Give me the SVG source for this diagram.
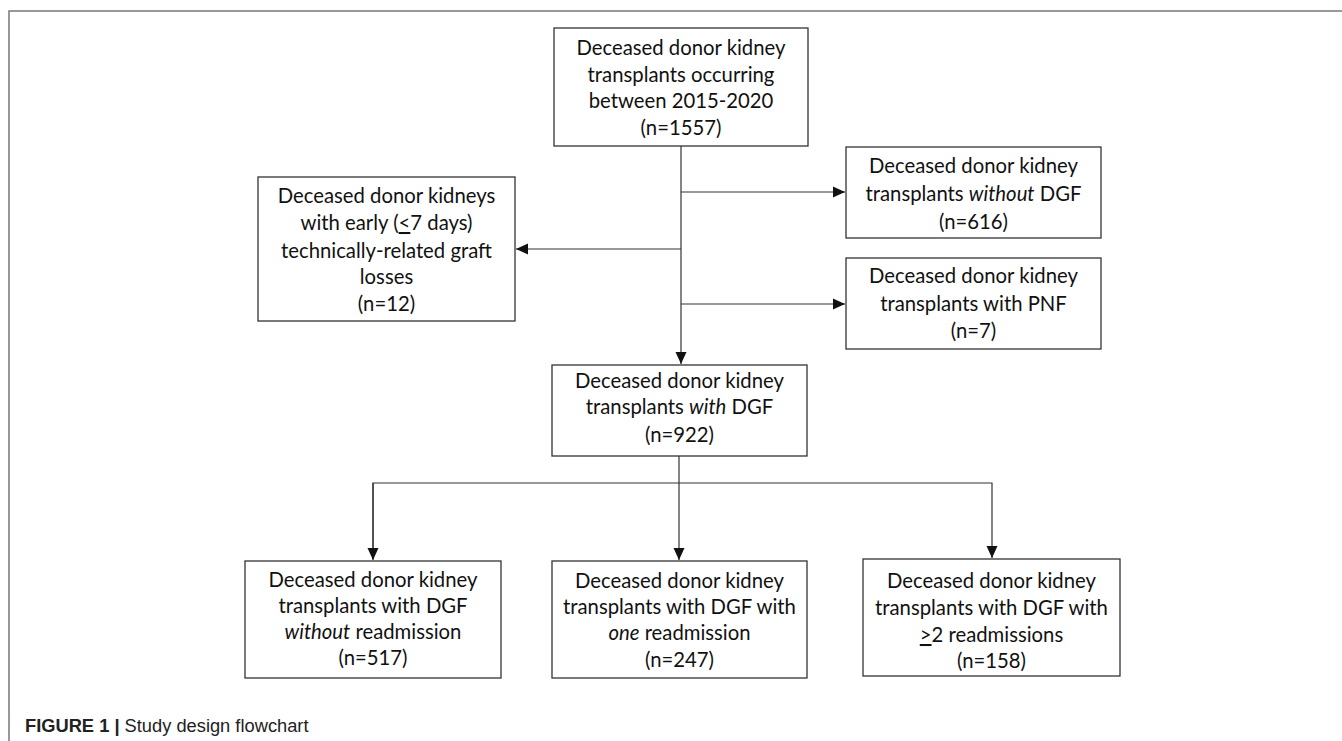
<svg xmlns="http://www.w3.org/2000/svg" width="1342" height="741" viewBox="0 0 1342 741">
<style>
.box{fill:#fff;stroke:#333;stroke-width:1.3}
.t{font-family:Lato,"Open Sans",sans-serif;font-size:20.3px;fill:#111;text-anchor:middle}
.c{fill:none;stroke:#333;stroke-width:1.2}
.frame{fill:none;stroke:#777;stroke-width:1.5}
.cap{font-family:"Liberation Sans",Arial,sans-serif;font-size:18.3px;fill:#222}
</style>
<defs>
<marker id="ah" markerUnits="userSpaceOnUse" markerWidth="13" markerHeight="13" viewBox="0 0 13 13" refX="12" refY="6.5" orient="auto">
<path d="M0,1 L12,6.5 L0,12 Z" fill="#111"/>
</marker>
</defs>
<rect width="1342" height="741" fill="#fff"/>
<path class="frame" d="M9,741 L9,11 L1342,11"/>
<g id="connectors">
<line class="c" x1="681" y1="146" x2="681" y2="364" marker-end="url(#ah)"/>
<line class="c" x1="681" y1="192" x2="845" y2="192" marker-end="url(#ah)"/>
<line class="c" x1="681" y1="249" x2="516" y2="249" marker-end="url(#ah)"/>
<line class="c" x1="681" y1="304" x2="845" y2="304" marker-end="url(#ah)"/>
<line class="c" x1="679" y1="456" x2="679" y2="560" marker-end="url(#ah)"/>
<path class="c" d="M373,559 L373,483 L992,483 L992,558" marker-end="url(#ah)"/>
<line class="c" x1="373" y1="483" x2="373" y2="560" marker-end="url(#ah)"/>
</g>
<g id="n_total">
<rect class="box" x="554" y="28" width="254" height="118"/>
<text class="t" x="681" y="55">Deceased donor kidney</text>
<text class="t" x="681" y="82">transplants occurring</text>
<text class="t" x="681" y="108">between 2015-2020</text>
<text class="t" x="681" y="135">(n=1557)</text>
</g>
<g id="n_early">
<rect class="box" x="258" y="177" width="257" height="144"/>
<text class="t" x="386.5" y="203">Deceased donor kidneys</text>
<text class="t" x="386.5" y="230">with early (<tspan text-decoration="underline">&lt;</tspan>7 days)</text>
<text class="t" x="386.5" y="258">technically-related graft</text>
<text class="t" x="386.5" y="284">losses</text>
<text class="t" x="386.5" y="311">(n=12)</text>
</g>
<g id="n_without">
<rect class="box" x="846" y="147" width="255" height="91"/>
<text class="t" x="973.5" y="173">Deceased donor kidney</text>
<text class="t" x="973.5" y="201">transplants <tspan font-style="italic">without</tspan> DGF</text>
<text class="t" x="973.5" y="229">(n=616)</text>
</g>
<g id="n_pnf">
<rect class="box" x="846" y="258" width="255" height="91"/>
<text class="t" x="973.5" y="283">Deceased donor kidney</text>
<text class="t" x="973.5" y="311">transplants with PNF</text>
<text class="t" x="973.5" y="338">(n=7)</text>
</g>
<g id="n_with">
<rect class="box" x="552" y="365" width="255" height="91"/>
<text class="t" x="679.5" y="388">Deceased donor kidney</text>
<text class="t" x="679.5" y="414">transplants <tspan font-style="italic">with</tspan> DGF</text>
<text class="t" x="679.5" y="442">(n=922)</text>
</g>
<g id="n_none">
<rect class="box" x="245" y="561" width="256" height="117"/>
<text class="t" x="373" y="587">Deceased donor kidney</text>
<text class="t" x="373" y="613">transplants with DGF</text>
<text class="t" x="373" y="639"><tspan font-style="italic">without</tspan> readmission</text>
<text class="t" x="373" y="665">(n=517)</text>
</g>
<g id="n_one">
<rect class="box" x="552" y="561" width="255" height="117"/>
<text class="t" x="679.5" y="588">Deceased donor kidney</text>
<text class="t" x="679.5" y="614">transplants with DGF with</text>
<text class="t" x="679.5" y="640"><tspan font-style="italic">one</tspan> readmission</text>
<text class="t" x="679.5" y="667">(n=247)</text>
</g>
<g id="n_two">
<rect class="box" x="863" y="559" width="257" height="117"/>
<text class="t" x="991.5" y="588">Deceased donor kidney</text>
<text class="t" x="991.5" y="615">transplants with DGF with</text>
<text class="t" x="991.5" y="642"><tspan text-decoration="underline">&gt;</tspan>2 readmissions</text>
<text class="t" x="991.5" y="668">(n=158)</text>
</g>
<text class="cap" x="25" y="732"><tspan font-weight="bold">FIGURE 1 |</tspan> Study design flowchart</text>
</svg>
